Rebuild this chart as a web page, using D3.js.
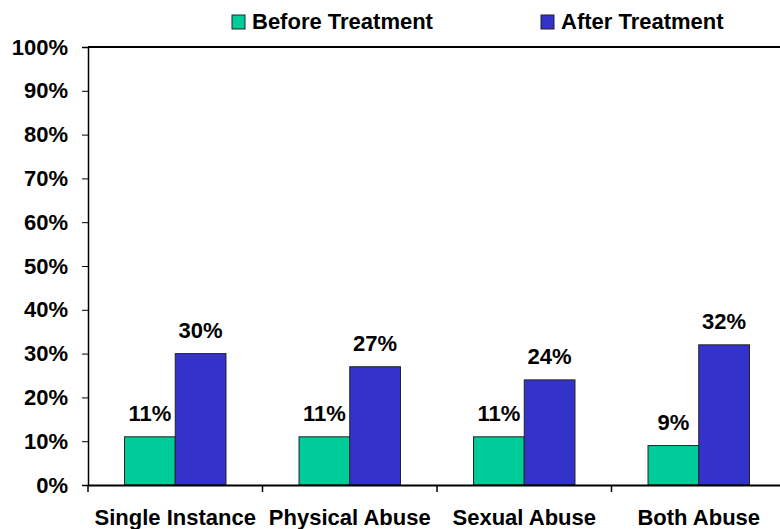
<!DOCTYPE html>
<html><head><meta charset="utf-8">
<script src="https://cdn.jsdelivr.net/npm/d3@7/dist/d3.min.js"></script>
<style>body{margin:0;background:#fff;}svg{display:block;font-family:Arial,"Liberation Sans",sans-serif;font-weight:bold;}</style>
</head><body>
<svg id="c" width="780" height="529"></svg>
<script>
const categories = ["Single Instance","Physical Abuse","Sexual Abuse","Both Abuse"];
const seriesNames = ["Before Treatment","After Treatment"];
const before = [11,11,11,9];
const after = [30,27,24,32];
const yTicks = [0,10,20,30,40,50,60,70,80,90,100];
const colors = ["#00CC99","#3333CC"];

const svg = d3.select("#c");
const m = {l:88, r:-6};
const W = 780;
const x = d3.scaleBand().domain(categories).range([m.l, W - m.r]).paddingInner(0).paddingOuter(0);
const y = d3.scaleLinear().domain([0,100]).range([485, 47]);
const x1 = d3.scaleBand().domain([0,1]).range([0, x.bandwidth()]).paddingInner(0).paddingOuter(0.72);

// bars
const data = categories.map((c,i)=>({c, v:[before[i], after[i]]}));
const g = svg.append("g");
data.forEach(d=>{
  d.v.forEach((v,j)=>{
    g.append("rect")
      .attr("x", x(d.c) + x1(j))
      .attr("y", y(v))
      .attr("width", x1.bandwidth())
      .attr("height", y(0)-y(v))
      .attr("fill", colors[j])
      .attr("stroke", "#222")
      .attr("stroke-width", 1);
    g.append("text")
      .attr("x", x(d.c) + x1(j) + x1.bandwidth()/2)
      .attr("y", y(v) - 16)
      .attr("text-anchor","middle")
      .attr("font-size", 22)
      .text(v + "%");
  });
});

// top border line
svg.append("line").attr("x1", m.l).attr("x2", W).attr("y1", y(100)).attr("y2", y(100))
  .attr("stroke","#000").attr("stroke-width",2);

// y axis
const ya = d3.axisLeft(y).tickValues(yTicks).tickSize(6).tickPadding(14).tickFormat(d=>d+"%");
const yg = svg.append("g").attr("transform",`translate(${m.l},0)`).call(ya);
yg.select(".domain").attr("stroke","#000").attr("stroke-width",1.5);
yg.selectAll(".tick line").attr("stroke","#000");
yg.selectAll("text").attr("font-size",22).attr("font-weight","bold").attr("fill","#000").attr("font-family","Arial,'Liberation Sans',sans-serif");

// x axis
const xa = d3.axisBottom(x).tickSize(0).tickPadding(0).tickFormat("");
const xg = svg.append("g").attr("transform",`translate(0,${y(0)})`).call(xa);
xg.select(".domain").attr("stroke","#000").attr("stroke-width",2);
xg.selectAll(".tick").remove();
const bounds = categories.map(c=>x(c)).concat([x(categories[3])+x.bandwidth()]);
xg.selectAll("line.b").data(bounds).enter().append("line")
  .attr("x1",d=>d).attr("x2",d=>d).attr("y1",0).attr("y2",7).attr("stroke","#000").attr("stroke-width",1.5);
xg.selectAll("text.cat").data(categories).enter().append("text")
  .attr("x",d=>x(d)+x.bandwidth()/2).attr("y",40)
  .attr("text-anchor","middle").attr("font-size",22).attr("fill","#000")
  .text(d=>d);

// legend
const legX = [232, 541];
const lg = svg.append("g");
seriesNames.forEach((s,i)=>{
  lg.append("rect").attr("x",legX[i]).attr("y",15).attr("width",13).attr("height",14)
    .attr("fill",colors[i]).attr("stroke","#222").attr("stroke-width",1);
  lg.append("text").attr("x",legX[i]+20).attr("y",29).attr("font-size",22).text(s);
});
</script>
</body></html>
